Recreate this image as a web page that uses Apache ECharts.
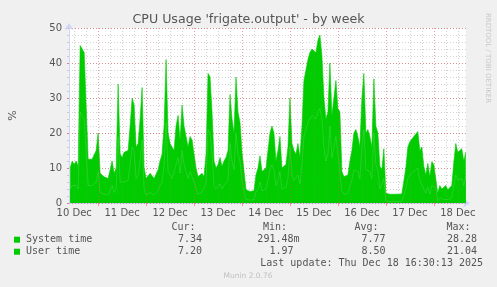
<!DOCTYPE html>
<html><head><meta charset="utf-8">
<script src="https://cdn.jsdelivr.net/npm/echarts@6/dist/echarts.min.js"></script>
<style>html,body{margin:0;padding:0;background:#f0f0f0}#c{width:497px;height:287px}</style>
</head><body><div id="c"></div>
<script>
// hours since 10 Dec 00:00, one sample per hour starting at startHour
const startHour = 10;
const systemTime = [
 4,5,4.5,5,4,
 26,25,24,24,
 5,5.5,5,5,6,9,
 3,2.5,2.5,2.2,2.3,2.5,
 5,3,4,19,6,5.5,6,
 6,6.5,11,16,15,7,8,12,18,
 4,2.3,2,3,3.2,2.3,2.5,3.5,5,6,
 11,23,9,8,7,6.5,11,13,8.5,15,
 11,9,7,9,8.5,6,4,2.5,2.3,3,2.5,
 6,21,20,14,
 5,4,4.5,5.5,4,5,5.5,6.5,
 17,12,9.5,20,14,12,6,6,
 1,0.9,0.8,1,0.9,
 3,4,6,3.5,3,4,
 6.5,9.5,11,9.5,5,6.5,9,
 4,3.5,4.5,7,16,8,6.5,6,8,5.5,
 11,19,21,23,24,25,25,24,26,27,24,
 16,12,14,22,13,16,19,14,14,
 3.5,2.5,2.5,2.8,
 5,6.5,9.5,10,9,7,16,21,
 9.5,10,9,7,20,11,9.5,4,3.5,7,
 0.6,0.5,0.4,0.4,0.5,0.6,0.4,0.3,0.5,0.6,
 4,7,8,8.5,9,9.5,10,6.5,7,
 4,2.8,4.5,2.5,5,4.5,4.4,
 0.6,1.5,1.1,1,1.5,1,1,1.5,
 5,8,6.5,6,7,5,7.34
];
const userTime = [
 6,7,6.5,7,6.5,
 19,19,19,18.5,
 7.5,7.5,7.5,8,9,11,
 5.5,5.5,5,4.8,4.7,5,
 7,5.5,6,15,8,7.5,8.5,
 8,8.5,11,14,13,9,9,12,15,
 6,4.7,4.5,5.5,5.3,4.7,5,6,7,8,
 11,18,11,9,9,8.5,11,12,9.5,13,
 11,10,9,10,9.5,8,6,5,4.7,5.5,5,
 8,16,16,12,
 7,6,6.5,7.5,6.5,7,7.5,8.5,
 14,12,10.5,16,12,11,8.5,8,
 2.8,2.6,2.5,2.6,2.6,
 5,6,7.5,5.5,5.5,6,
 8.5,10.5,11,10.5,7,8.5,10,
 6,6,6.5,9,14,9,8.5,8,9,7.5,
 11,16,17,18,19,19,19.5,19,20.5,21,18,
 14,12,12,18,12,14,16,13,12,
 5.5,5,5,5.2,
 7,8.5,10.5,11,10,9,14,16,
 10.5,11,10,9,15.5,11,10.5,6.5,6,8.5,
 2.2,2.1,2.1,2.0,2.0,2.1,2.1,2.1,2.1,2.2,
 6,9,9.5,9.5,10,10,10.4,8.5,9,
 6.5,5.2,6.8,5,6.8,6.5,6.5,
 2.2,3.5,2.9,2.7,3.5,2.8,2.7,3.5,
 6.5,9,8,8,8.5,7,7.20
];
const dayLabels = ['10 Dec','11 Dec','12 Dec','13 Dec','14 Dec','15 Dec','16 Dec','17 Dec','18 Dec'];
const dayLabelHours = [12,36,60,84,108,132,156,180,204];
const seriesNames = ['System time','User time'];
const curVals = ['7.34','7.20'];
const minVals = ['291.48m','1.97 '];
const avgVals = ['7.77','8.50'];
const maxVals = ['28.28','21.04'];
const lastUpdate = 'Last update: Thu Dec 18 16:30:13 2025';
const chartTitle = "CPU Usage 'frigate.output' - by week";

const xMin = 9.41, xMax = 208.11;
const midnights = [], sixHours = [];
for (let h = 6; h < xMax; h += 6) { if (h < xMin) continue; if (h % 24 === 0) midnights.push(h); else sixHours.push(h); }

// stacked table: system at bottom, user stacked on top
const sysData = systemTime.map((v, i) => [startHour + i, v]);
const totData = userTime.map((v, i) => [startHour + i, systemTime[i] + v]);

const green = '#00cc00';
const font = 'DejaVu Sans';
const txtColor = '#555';
const minorGrid = 'rgba(140,140,140,0.38)';
const majorGrid = 'rgba(224,80,80,0.55)';
const axisCol = '#CFD6F8';

const chart = echarts.init(document.getElementById('c'), null, {renderer: 'canvas'});

const g = [];
g.push({type:'text', x:248.5, y:19.5, style:{text:chartTitle, font:'12.6px "DejaVu Sans"', fill:txtColor, textAlign:'center', textVerticalAlign:'middle'}});
g.push({type:'text', x:488, y:58, rotation:-Math.PI/2, style:{text:'RRDTOOL / TOBI OETIKER', font:'7px "DejaVu Sans"', fill:'#c8c8c8', textAlign:'center', textVerticalAlign:'middle'}});
const hdrY = 227.7, rowY = [239.7, 251.7];
const cols = [[195.5,'Cur:'],[287,'Min:'],[378.5,'Avg:'],[470.5,'Max:']];
cols.forEach(c => g.push({type:'text', x:c[0], y:hdrY, style:{text:c[1], font:'10px "DejaVu Sans Mono"', fill:txtColor, textAlign:'right', textVerticalAlign:'middle'}}));
seriesNames.forEach((n, i) => {
  g.push({type:'rect', shape:{x:14, y:rowY[i]-3, width:6, height:6}, style:{fill:green}});
  g.push({type:'text', x:26, y:rowY[i], style:{text:n, font:'10px "DejaVu Sans Mono"', fill:txtColor, textAlign:'left', textVerticalAlign:'middle'}});
  [[202,curVals[i]],[299.5,minVals[i]],[385.5,avgVals[i]],[477,maxVals[i]]].forEach(v =>
    g.push({type:'text', x:v[0], y:rowY[i], style:{text:v[1], font:'10px "DejaVu Sans Mono"', fill:txtColor, textAlign:'right', textVerticalAlign:'middle', whiteSpace:'pre'}}));
});
g.push({type:'text', x:483, y:263.3, style:{text:lastUpdate, font:'10px "DejaVu Sans Mono"', fill:txtColor, textAlign:'right', textVerticalAlign:'middle'}});
g.push({type:'text', x:248, y:276.5, style:{text:'Munin 2.0.76', font:'7.5px "DejaVu Sans"', fill:'#c0c0c0', textAlign:'center', textVerticalAlign:'middle'}});

const vLines = sixHours.map(h => ({xAxis:h, lineStyle:{color:minorGrid, type:[1,2], width:1}}))
  .concat(midnights.map(h => ({xAxis:h, lineStyle:{color:majorGrid, type:[1,2], width:1}})));

chart.setOption({
  animation:false,
  backgroundColor:'#f0f0f0',
  grid:{left:67, top:28, width:399, height:175, show:true, backgroundColor:'#ffffff', borderWidth:0},
  xAxis:{type:'value', min:xMin, max:xMax,
    axisLine:{show:true, lineStyle:{color:axisCol, width:1}, symbol:['none','arrow'], symbolSize:[7,7], symbolOffset:[0,4]},
    splitLine:{show:false},
    axisTick:{show:true, customValues:midnights, length:3, lineStyle:{color:majorGrid}},
    axisLabel:{customValues:dayLabelHours, formatter:v => dayLabels[dayLabelHours.indexOf(Math.round(v))] || '', color:txtColor, fontSize:10, fontFamily:font, margin:5}
  },
  yAxis:[
    {type:'value', min:0, max:50, interval:10,
     axisLine:{show:true, lineStyle:{color:axisCol}, symbol:['none','arrow'], symbolSize:[7,7], symbolOffset:[0,5]},
     splitLine:{show:true, lineStyle:{color:majorGrid, type:[1,2]}},
     axisTick:{show:true, length:2, lineStyle:{color:majorGrid}},
     axisLabel:{color:txtColor, fontSize:10, fontFamily:font, margin:7},
     name:'%', nameLocation:'middle', nameGap:50, nameRotate:90, nameTextStyle:{color:txtColor, fontSize:11, fontFamily:font}, z:1},
    {type:'value', min:0, max:50, interval:2, position:'left',
     axisLine:{show:false}, axisLabel:{show:false},
     axisTick:{show:true, length:2, lineStyle:{color:minorGrid}},
     splitLine:{show:true, lineStyle:{color:minorGrid, type:[1,2]}}, z:0}
  ],
  series:[
    {type:'line', data:[], z:1, silent:true, markLine:{silent:true, symbol:'none', label:{show:false}, data:vLines, animation:false}},
    {name:seriesNames[1], type:'line', data:totData, showSymbol:false, z:2,
     lineStyle:{color:green, width:0.6}, areaStyle:{color:green, opacity:1}},
    {name:seriesNames[0], type:'line', data:sysData, showSymbol:false, z:3,
     lineStyle:{color:'rgba(150,235,150,0.4)', width:0.6}, areaStyle:{color:green, opacity:1}}
  ],
  graphic:g
});
</script></body></html>
